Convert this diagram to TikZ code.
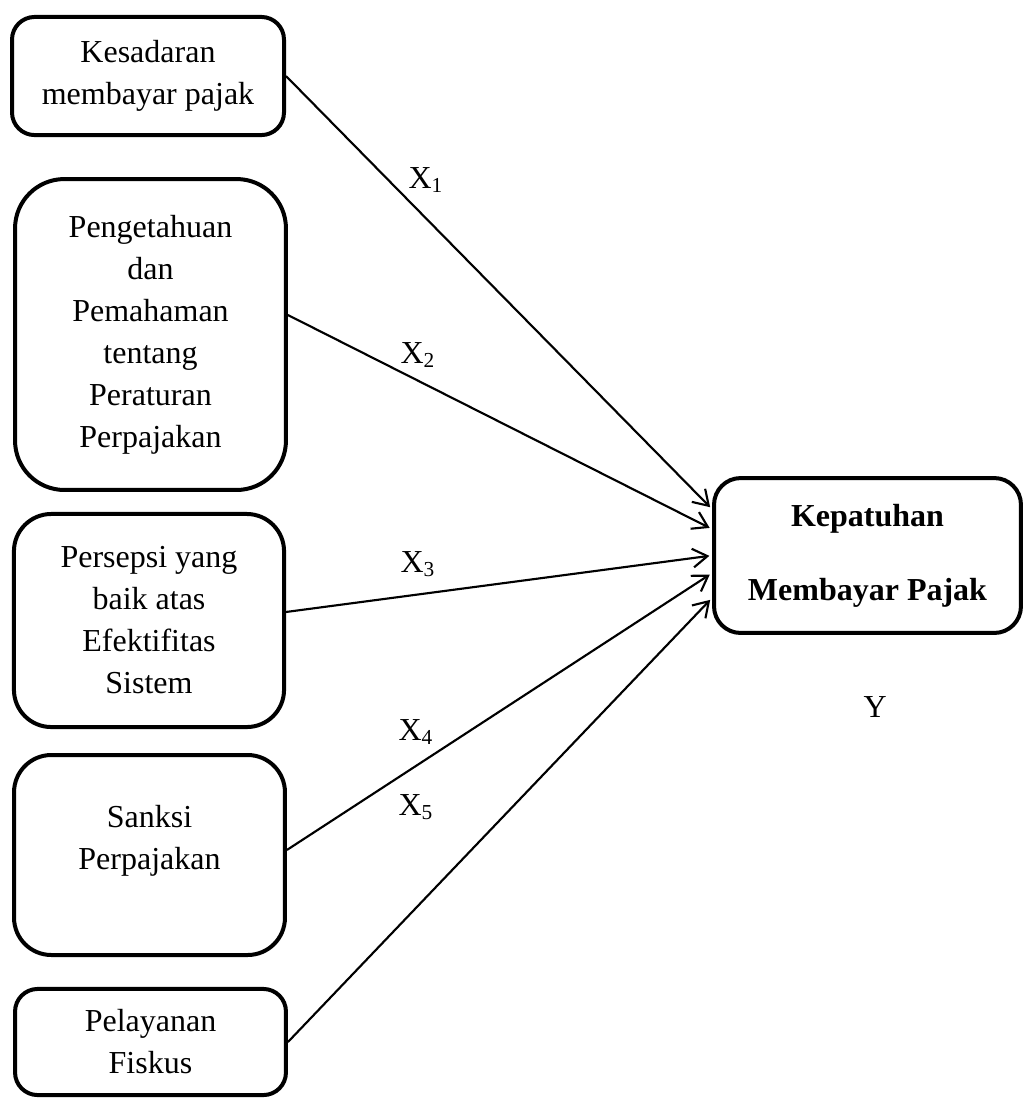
\documentclass[tikz,border=0pt]{standalone}
\usepackage{fontspec}
\setmainfont{Liberation Serif}
\usetikzlibrary{arrows.meta}

\begin{document}
\begin{tikzpicture}[x=0.375pt,y=-0.375pt,shorten >=1pt,
  var/.style={draw,line width=1.5pt,align=center,inner sep=0pt,
    font=\fontsize{12}{15.75}\selectfont,minimum width=101.6pt},
  dep/.style={draw,line width=1.5pt,align=center,inner sep=0pt,rounded corners=10pt,
    font=\bfseries\fontsize{12}{27.75}\selectfont,minimum width=115.1pt,minimum height=58.1pt},
  lbl/.style={anchor=base west,inner sep=0pt,font=\fontsize{12}{14}\selectfont},
  panah/.style={-{Straight Barb[length=5.5pt,width=7pt]},line width=0.8pt}]
  \useasboundingbox (0,0) rectangle (1025,1099);
  % variabel bebas
  \node[var,rounded corners=8.5pt,minimum width=102pt,minimum height=44.3pt] (kesadaran) at (148,76)
    {Kesadaran\\membayar pajak};
  \node[var,rounded corners=18.5pt,minimum height=116.6pt] (pengetahuan) at (150.5,334.5)
    {Pengetahuan\\dan\\Pemahaman\\tentang\\Peraturan\\Perpajakan};
  \node[var,rounded corners=14pt,minimum width=101.3pt,minimum height=79.9pt] (persepsi) at (149,620.5)
    {Persepsi yang\\baik atas\\Efektifitas\\Sistem};
  \node[var,rounded corners=14pt,minimum height=75pt] (sanksi) at (149.5,855)
    {Sanksi\\Perpajakan\rule[-13pt]{0pt}{0pt}};
  \node[var,rounded corners=8.5pt,minimum height=39.8pt] (pelayanan) at (150.5,1042)
    {Pelayanan\\Fiskus};
  % variabel terikat
  \node[dep] (kepatuhan) at (867.5,555.5) {Kepatuhan\\Membayar Pajak};
  \path[panah]
    (kesadaran.east) edge ([yshift=17.4pt]kepatuhan.west)
    ([yshift=7.3pt]pengetahuan.east) edge ([yshift=9.9pt]kepatuhan.west)
    ([yshift=3.2pt]persepsi.east) edge (kepatuhan.west)
    ([yshift=1.9pt]sanksi.east) edge ([yshift=-6.6pt]kepatuhan.west)
    (pelayanan.east) edge ([yshift=-15.9pt]kepatuhan.west);
  % label
  \node[lbl] (x1) at (408,188) {X\textsubscript{1}};
  \node[lbl] (x2) at (400,363) {X\textsubscript{2}};
  \node[lbl] (x3) at (400,572) {X\textsubscript{3}};
  \node[lbl] (x4) at (398,740) {X\textsubscript{4}};
  \node[lbl] (x5) at (398,815) {X\textsubscript{5}};
  \node[lbl] (y) at (863,717) {Y};
\end{tikzpicture}
\end{document}
